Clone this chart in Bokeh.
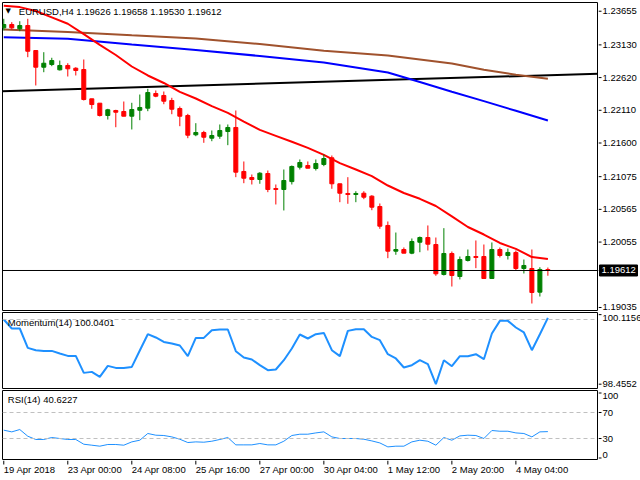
from bokeh.plotting import figure
from bokeh.models import Range1d, Span, Label, ColumnDataSource
from bokeh.layouts import column, row
from bokeh.embed import file_html
from bokeh.resources import INLINE
from bokeh.core.properties import value

# ---------------- data ----------------
opens = [1.23396, 1.23448, 1.23381, 1.23432, 1.23042, 1.22782, 1.22824, 1.22741, 1.22809, 1.22766,
         1.22746, 1.22289, 1.22221, 1.22029, 1.22107, 1.22091, 1.22018, 1.22111, 1.22143, 1.22372,
         1.22341, 1.22263, 1.22138, 1.22029, 1.21728, 1.21764, 1.21675, 1.21706, 1.21779, 1.21842,
         1.21156, 1.21062, 1.21031, 1.21124, 1.20890, 1.20875, 1.20998, 1.21223, 1.21249, 1.21202,
         1.21265, 1.21369, 1.20964, 1.20813, 1.20797, 1.20817, 1.20771, 1.20610, 1.20314, 1.19913,
         1.19939, 1.19882, 1.20053, 1.20126, 1.20017, 1.19550, 1.19877, 1.19518, 1.19768, 1.19830,
         1.19830, 1.19487, 1.19939, 1.19846, 1.19893, 1.19643, 1.19643, 1.19274, 1.19626]
highs = [1.23537, 1.23484, 1.23499, 1.23537, 1.23042, 1.23016, 1.22929, 1.22886, 1.22844, 1.22782,
         1.22902, 1.22289, 1.22221, 1.22133, 1.22118, 1.22247, 1.22227, 1.22356, 1.22445, 1.22419,
         1.22403, 1.22305, 1.22169, 1.22055, 1.21909, 1.21790, 1.21795, 1.21889, 1.21889, 1.22107,
         1.21312, 1.21109, 1.21145, 1.21171, 1.20953, 1.21187, 1.21249, 1.21343, 1.21312, 1.21343,
         1.21421, 1.21405, 1.20964, 1.21067, 1.20848, 1.20848, 1.20786, 1.20657, 1.20376, 1.20204,
         1.19971, 1.20111, 1.20142, 1.20314, 1.20126, 1.20272, 1.19908, 1.19830, 1.19939, 1.20080,
         1.20017, 1.20049, 1.19971, 1.19955, 1.19924, 1.19783, 1.19939, 1.19663, 1.19658]
lows = [1.23354, 1.23365, 1.23343, 1.22938, 1.22497, 1.22704, 1.22798, 1.22731, 1.22637, 1.22653,
        1.22263, 1.22133, 1.22013, 1.21966, 1.21846, 1.22018, 1.21811, 1.21956, 1.22096, 1.22314,
        1.22205, 1.22049, 1.21862, 1.21675, 1.21706, 1.21603, 1.21628, 1.21665, 1.21566, 1.21067,
        1.20973, 1.20953, 1.20964, 1.20833, 1.20641, 1.20548, 1.20953, 1.21187, 1.21207, 1.21171,
        1.21238, 1.20886, 1.20677, 1.20652, 1.20677, 1.20724, 1.20552, 1.20262, 1.19804, 1.19857,
        1.19882, 1.19866, 1.19897, 1.19924, 1.19529, 1.19534, 1.19362, 1.19472, 1.19752, 1.19648,
        1.19487, 1.19487, 1.19815, 1.19783, 1.19612, 1.19565, 1.19097, 1.19206, 1.19530]
closes = [1.23448, 1.23396, 1.23432, 1.23031, 1.22782, 1.22844, 1.22886, 1.22809, 1.22757, 1.22731,
          1.22278, 1.22200, 1.22029, 1.22118, 1.22080, 1.22018, 1.22122, 1.22154, 1.22387, 1.22330,
          1.22252, 1.22127, 1.22018, 1.21722, 1.21764, 1.21690, 1.21717, 1.21795, 1.21842, 1.21145,
          1.21051, 1.21031, 1.21129, 1.20875, 1.20875, 1.21015, 1.21234, 1.21296, 1.21207, 1.21280,
          1.21358, 1.20964, 1.20817, 1.20797, 1.20813, 1.20755, 1.20599, 1.20303, 1.19913, 1.19939,
          1.19882, 1.20064, 1.20126, 1.20022, 1.19560, 1.19877, 1.19534, 1.19783, 1.19830, 1.19815,
          1.19487, 1.19939, 1.19846, 1.19893, 1.19643, 1.19690, 1.19269, 1.19628, 1.19612]

ma_red_idx = list(range(0, 69, 2))
ma_red = [1.23739, 1.23719, 1.23658, 1.23560, 1.23460, 1.23297, 1.23131, 1.22972, 1.22793, 1.22653,
          1.22536, 1.22398, 1.22294, 1.22175, 1.22069, 1.21935, 1.21804, 1.21712, 1.21620, 1.21525,
          1.21416, 1.21287, 1.21187, 1.21084, 1.20937, 1.20820, 1.20730, 1.20618, 1.20457, 1.20290,
          1.20173, 1.20041, 1.19949, 1.19822, 1.19791]
ma_blue_idx = [0, 8, 16, 24, 32, 40, 44, 48, 52, 56, 60, 64, 68]
ma_blue = [1.23250, 1.23226, 1.23136, 1.23050, 1.22957, 1.22855, 1.22777, 1.22699, 1.22551,
           1.22400, 1.22253, 1.22102, 1.21951]
ma_brown_idx = [0, 8, 16, 24, 32, 40, 48, 56, 60, 64, 68]
ma_brown = [1.23370, 1.23331, 1.23279, 1.23230, 1.23144, 1.23039, 1.22964, 1.22840, 1.22741,
            1.22665, 1.22601]
trend_idx = [-1, 75]
trend_val = [1.22405, 1.22682]

momentum = [100.000, 99.785, 99.785, 99.322, 99.267, 99.250, 99.250, 99.188, 99.131, 99.131,
            98.725, 98.749, 98.629, 98.892, 98.844, 98.844, 98.868, 99.260, 99.649, 99.570,
            99.465, 99.427, 99.379, 99.124, 99.561, 99.561, 99.744, 99.761, 99.761, 99.243,
            99.093, 99.045, 98.909, 98.789, 98.806, 99.028, 99.307, 99.642, 99.546, 99.649,
            99.680, 99.267, 99.124, 99.728, 99.768, 99.768, 99.584, 99.506, 99.171, 99.069,
            98.854, 98.909, 99.028, 98.933, 98.455, 99.028, 98.885, 99.124, 99.124, 99.171,
            99.052, 99.666, 99.967, 99.967, 99.809, 99.690, 99.267, 99.649, 100.040]
rsi = [42.8, 40.2, 43.8, 33.5, 28.5, 28.5, 31.5, 30.0, 28.5, 28.5,
       21.2, 19.7, 18.2, 20.8, 20.8, 19.7, 24.8, 27.4, 37.7, 35.1,
       34.6, 32.5, 28.9, 23.8, 24.8, 24.3, 25.8, 28.5, 31.5, 20.2,
       20.2, 20.2, 22.3, 20.2, 20.2, 25.8, 34.6, 36.6, 36.6, 38.6,
       40.2, 32.5, 30.0, 30.0, 30.0, 28.9, 26.3, 23.2, 17.1, 18.2,
       18.2, 24.8, 27.4, 25.8, 19.7, 31.5, 27.4, 34.0, 35.1, 34.6,
       30.0, 42.3, 41.2, 41.2, 38.6, 37.7, 32.5, 40.2, 40.6]

price_ticks = [1.23655, 1.23130, 1.22620, 1.22110, 1.21600, 1.21075, 1.20565, 1.20055, 1.19035]
mom_ticks = [100.1156, 98.4552]
rsi_ticks = [100, 70, 30, 0]
mom_level = 100
rsi_levels = [70, 30]
last_price = 1.19612

time_tick_idx = [0, 8, 16, 24, 32, 40, 48, 56, 64]
time_labels = ["19 Apr 2018", "23 Apr 00:00", "24 Apr 08:00", "25 Apr 16:00", "27 Apr 00:00",
               "30 Apr 04:00", "1 May 12:00", "2 May 20:00", "4 May 04:00"]

title_text = "EURUSD,H4  1.19626 1.19658 1.19530 1.19612"
mom_title = "Momentum(14) 100.0401"
rsi_title = "RSI(14) 40.6227"

# ---------------- styling ----------------
FONT = "Liberation Sans"
FS = "9.5px"
GREEN = "#008000"
RED = "#ff0000"
LEVEL = "#c0c0c0"
IND = "#1e90ff"
PANEL_W = 598
STRIP_W = 42

idx = list(range(len(opens)))
src = ColumnDataSource(dict(
    x=idx, h=highs, l=lows,
    top=[max(o, c) for o, c in zip(opens, closes)],
    bot=[min(o, c) for o, c in zip(opens, closes)],
    color=[GREEN if c > o else RED for o, c in zip(opens, closes)],
))

xr = Range1d(-0.16, 74.2)


def make_panel(h, yr, top, bottom):
    p = figure(width=PANEL_W, height=h, x_range=xr, y_range=yr, toolbar_location=None,
               output_backend="svg", x_axis_location=None, y_axis_location=None,
               min_border_left=2, min_border_right=1, min_border_top=top,
               min_border_bottom=bottom)
    p.grid.visible = False
    p.outline_line_color = "black"
    p.outline_line_width = 1
    p.outline_line_alpha = 1
    p.background_fill_color = "white"
    p.border_fill_color = "white"
    return p


def make_strip(h, yr, top, bottom, ticks, labels, baselines):
    s = figure(width=STRIP_W, height=h, x_range=Range1d(0, STRIP_W), y_range=yr,
               toolbar_location=None, output_backend="svg", x_axis_location=None,
               y_axis_location=None, min_border_left=0, min_border_right=0,
               min_border_top=top, min_border_bottom=bottom)
    s.grid.visible = False
    s.outline_line_color = None
    s.background_fill_color = "white"
    s.border_fill_color = "white"
    n = len(ticks)
    s.segment(x0=[0] * n, y0=ticks, x1=[3] * n, y1=ticks, line_color="black", line_width=1)
    s.text(x=[4] * n, y=ticks, text=labels, text_font=value(FONT), text_font_size=value(FS),
           text_color="black", text_align="left", text_baseline=baselines)
    return s


def title_label(p, txt, dx, dy, font=FONT, size=FS):
    p.add_layout(Label(x=xr.start, y=p.y_range.end, x_offset=dx, y_offset=-dy, text=txt,
                       text_font=font, text_font_size=size, text_color="black",
                       text_baseline="middle", text_align="left"))


# main price panel
yr1 = Range1d(1.18988, 1.23791)
p1 = make_panel(311, yr1, 2, 1)
p1.line(trend_idx, trend_val, line_color="black", line_width=2)
p1.line(ma_brown_idx, ma_brown, line_color="#a0522d", line_width=2)
p1.line(ma_blue_idx, ma_blue, line_color="#0000ff", line_width=2)
p1.line(ma_red_idx, ma_red, line_color=RED, line_width=2)
p1.segment(x0="x", y0="l", x1="x", y1="h", line_color="color", line_width=1, source=src)
p1.vbar(x="x", top="top", bottom="bot", width=0.5, fill_color="color", line_color="color",
        line_width=1, source=src)
p1.add_layout(Span(location=last_price, dimension="width", line_color="black", line_width=1))
title_label(p1, "\u25bc", 3, 8.5, font="DejaVu Sans", size="7px")
title_label(p1, title_text, 16.3, 8.5)

s1 = make_strip(311, yr1, 2, 1, price_ticks, [f"{t:.5f}" for t in price_ticks],
                ["middle"] * len(price_ticks))
s1.segment(x0=[0], y0=[last_price], x1=[3], y1=[last_price], line_color="black", line_width=1)
s1.rect(x=[20], y=[last_price], width=[38], height=[11], height_units="screen",
        fill_color="black", line_color="black")
s1.text(x=[3], y=[last_price], text=[f"{last_price:.5f}"], text_font=value(FONT),
        text_font_size=value(FS), text_color="white", text_align="left", text_baseline="middle")

# momentum panel
yr2 = Range1d(98.352, 100.167)
p2 = make_panel(78, yr2, 1, 1)
p2.add_layout(Span(location=mom_level, dimension="width", line_color=LEVEL, line_width=1,
                   line_dash="4 3"))
p2.line(idx, momentum, line_color=IND, line_width=2)
title_label(p2, mom_title, 5.3, 9.7)
s2 = make_strip(78, yr2, 1, 1, mom_ticks, [f"{t:.4f}" for t in mom_ticks],
                ["top", "alphabetic"])

# RSI panel
yr3 = Range1d(-2.3, 103.85)
p3 = make_panel(71, yr3, 1, 1)
for lv in rsi_levels:
    p3.add_layout(Span(location=lv, dimension="width", line_color=LEVEL, line_width=1,
                       line_dash="4 3"))
p3.line(idx, rsi, line_color=IND, line_width=1)
title_label(p3, rsi_title, 5.3, 9)
s3 = make_strip(71, yr3, 1, 1, rsi_ticks, [str(t) for t in rsi_ticks],
                ["top", "middle", "middle", "bottom"])

# time axis strip
p4 = figure(width=640, height=20, x_range=xr, y_range=Range1d(20, 0), toolbar_location=None,
            output_backend="svg", x_axis_location=None, y_axis_location=None,
            min_border_left=2, min_border_right=STRIP_W + 1, min_border_top=0,
            min_border_bottom=0)
p4.grid.visible = False
p4.outline_line_color = None
p4.background_fill_color = "white"
p4.border_fill_color = "white"
n_t = len(time_tick_idx)
p4.segment(x0=time_tick_idx, y0=[0] * n_t, x1=time_tick_idx, y1=[4] * n_t,
           line_color="black", line_width=1)
p4.text(x=time_tick_idx, y=[8.5] * n_t, text=time_labels, text_font=value(FONT),
        text_font_size=value(FS), text_color="black", text_baseline="middle", text_align="left")

layout = column(row(p1, s1, spacing=0), row(p2, s2, spacing=0), row(p3, s3, spacing=0), p4,
                spacing=0)
open("out.html", "w").write(file_html(layout, INLINE))
